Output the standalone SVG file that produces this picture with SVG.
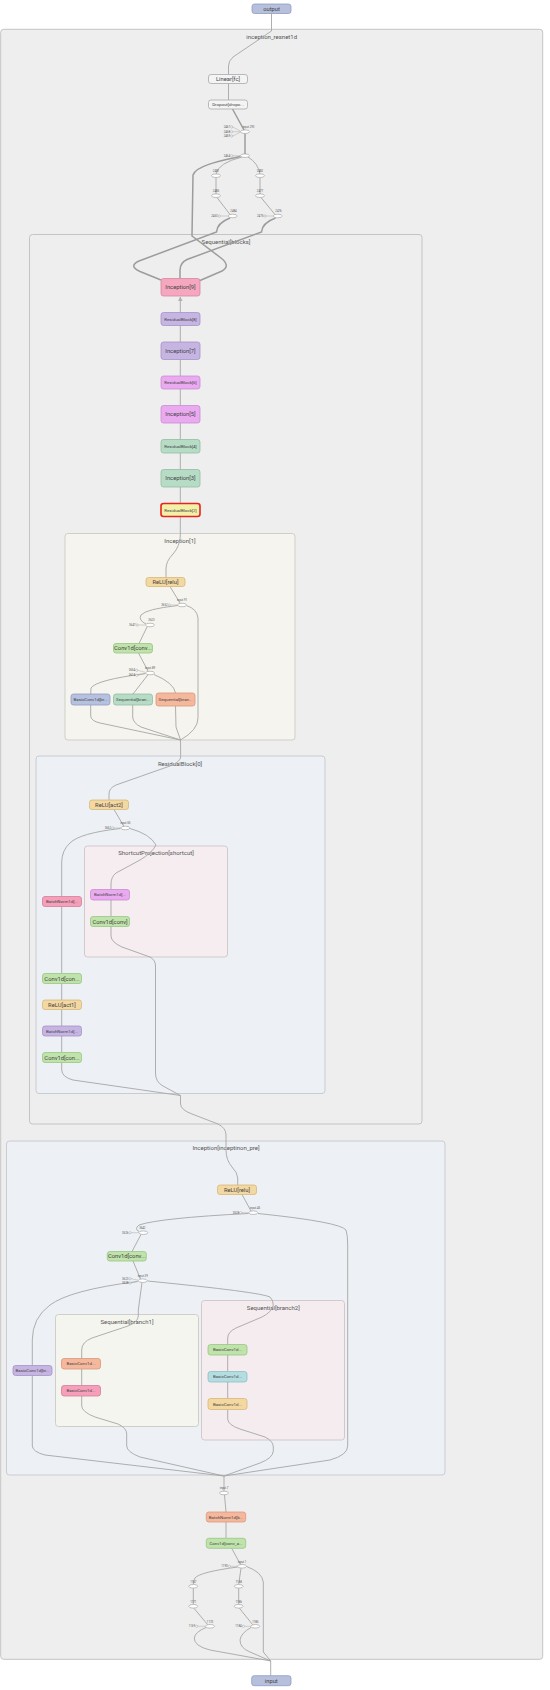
<svg xmlns="http://www.w3.org/2000/svg" width="550" height="1690" viewBox="0 0 550 1690">
<defs>
<style>
.box{stroke:#c4c4c4;stroke-width:1}
.n{stroke-width:0.8}
.e{fill:none;stroke:#a6a6a6;stroke-width:0.9}
.et{fill:none;stroke:#9c9c9c;stroke-width:1.5}
.t{font-family:Roboto,"Liberation Sans",sans-serif;fill:#444;text-anchor:middle;dominant-baseline:central}
.tt{font-size:6px;fill:#555}
.l{font-size:5.8px}
.s{font-size:4.4px}
.x{font-size:2.8px;fill:#555}
.xe{text-anchor:end}
.el{fill:#fff;stroke:#999;stroke-width:0.6}
.c{fill:#fff;stroke:#999;stroke-width:0.5}
.cl{fill:none;stroke:#aaa;stroke-width:0.5}
.io{fill:#b6c0dc;stroke:#8f9cc2}
.gr{fill:#f4f4f4;stroke:#aaa}
.pk{fill:#f4a7bf;stroke:#d5879e}
.pu{fill:#c6b5e3;stroke:#a593c6}
.vi{fill:#eaaaf0;stroke:#c98bd0}
.gn{fill:#b7dcc6;stroke:#93bca3}
.ye{fill:#f3f0a8;stroke:#e8241d;stroke-width:1.6}
.re{fill:#f4d8a1;stroke:#d6b77c}
.cv{fill:#bfe3aa;stroke:#97c783}
.bl{fill:#b6c0df;stroke:#8f9dc3}
.or{fill:#f6b89c;stroke:#d8977b}
.pi{fill:#f59fbb;stroke:#d47e9b}
.te{fill:#b3dde0;stroke:#8fbfc3}
</style>
<marker id="ah" viewBox="0 0 10 10" refX="9" refY="5" markerWidth="5" markerHeight="5" orient="auto"><path d="M0,0 L10,5 L0,10 z" fill="#b0b0b0"/></marker>
</defs>
<rect width="550" height="1690" fill="#ffffff"/>

<g id="inception_resnet1d">
<rect class="box" x="0.7" y="29.3" width="542" height="1630" rx="3" fill="#eeeeee"/>
<text class="t tt" x="271.7" y="36">inception_resnet1d</text>
</g>
<g id="blocks">
<rect class="box" x="29.5" y="234.5" width="392.5" height="889.5" rx="3" fill="#eeeeee"/>
<text class="t tt" x="226" y="241">Sequential[blocks]</text>
</g>
<g id="inception1">
<rect x="65" y="533.5" width="230" height="206.5" rx="3" fill="#f5f4ee" stroke="#cfcfc8"/>
<text class="t tt" x="180" y="540">Inception[1]</text>
</g>
<g id="residualblock0">
<rect x="36" y="756" width="289" height="337.5" rx="3" fill="#edf0f5" stroke="#c8ccd4"/>
<text class="t tt" x="180" y="763">ResidualBlock[0]</text>
</g>
<g id="shortcut">
<rect x="84.5" y="846" width="143" height="111" rx="3" fill="#f5edf0" stroke="#d2c9cd"/>
<text class="t tt" x="156" y="852.5">ShortcutProjection[shortcut]</text>
</g>
<g id="inception_pre">
<rect x="6.5" y="1141" width="438.5" height="334" rx="3" fill="#edf0f5" stroke="#c8ccd4"/>
<text class="t tt" x="226" y="1147.5">Inception[inceptinon_pre]</text>
</g>
<g id="branch1">
<rect x="55.5" y="1314.5" width="143" height="112" rx="3" fill="#f5f5ef" stroke="#cfcfc8"/>
<text class="t tt" x="127" y="1321">Sequential[branch1]</text>
</g>
<g id="branch2">
<rect x="201.5" y="1300.5" width="143" height="139.5" rx="3" fill="#f5ecf0" stroke="#d2c9cd"/>
<text class="t tt" x="273.3" y="1307.5">Sequential[branch2]</text>
</g>

<g id="connectors">
<path class="e" d="M271.5,13.5 L271.5,31 L233,57 Q228.5,61 228.5,66 L228.5,74.5"/>
<path class="e" d="M228.5,83.5 L228.5,100"/>
<path class="et" d="M232.5,109 L244,130"/>
<path class="et" d="M245,133.5 L245,154"/>
<path class="et" d="M240.5,156.5 C225,160 196,165 193,175 L192,236 L221,258 Q231,266 222,271 L200,280.5"/>
<path class="e" d="M242,157 Q218,163 216,174"/>
<path class="e" d="M248,157 Q258,163 260,174"/>
<path class="e" d="M216,177.5 L216,194"/>
<path class="e" d="M260,177.5 L260,194"/>
<path class="e" d="M217,197.5 L230,214.5"/>
<path class="e" d="M261,197.5 L275,214.5"/>
<path class="et" d="M230,218 Q217,223 216.5,232 L139,261 Q128,266 140,271.5 L161,280"/>
<path class="et" d="M275.5,218 Q262,223 261.5,232 L187,259.5 Q180,263 180,270 L180,278.5"/>
<path class="e" d="M180.3,312.5 L180.3,297" marker-end="url(#ah)"/>
<path class="e" d="M180.3,325.5 L180.3,342"/>
<path class="e" d="M180.3,359.5 L180.3,376"/>
<path class="e" d="M180.3,389 L180.3,405.5"/>
<path class="e" d="M180.3,423 L180.3,439.5"/>
<path class="e" d="M180.3,453 L180.3,469.5"/>
<path class="e" d="M180.3,487 L180.3,503.5"/>
<path class="e" d="M180.3,516.5 L180.3,536 Q180,546 173,554 Q166,561 166,569 L166,577.5"/>
<path class="e" d="M170,586.5 L180,603"/>
<path class="e" d="M178,605.5 Q146,609 141,615 Q138,620 146,624"/>
<path class="e" d="M186.5,605.5 Q197,609 198,618 L198,718 Q198,730 180.5,740"/>
<path class="e" d="M147,627 L139,643.5"/>
<path class="e" d="M138.5,653 L148,671"/>
<path class="e" d="M145.5,673.5 Q96,680 91,688 L90.7,694"/>
<path class="e" d="M148,674.7 L133,694"/>
<path class="e" d="M154,674.5 Q174,683 175.5,693"/>
<path class="e" d="M90.7,705 L90.7,716 Q91,721 100,723 L180.5,740"/>
<path class="e" d="M132.7,705 L132.7,717 Q133,723 141,727 L180.5,740"/>
<path class="e" d="M175.5,706 L176,727 L180.5,740"/>
<path class="e" d="M180.5,740 L180.7,757 Q180,762 170,766 L116,785 Q109,788 109,794 L109,800"/>
<path class="e" d="M114,809.5 L124,826.5"/>
<path class="e" d="M120.5,828.5 Q80,833 70,843 Q62,850 61.7,862 L61.7,896.5"/>
<path class="e" d="M130,828.5 Q150,834 156,845 Q152,853 140,860 L116,873 Q111,877 111,884 L111,889.5"/>
<path class="e" d="M111,900 L111,916.5"/>
<path class="e" d="M111,926.5 L111,936 Q111,942 122,947 L150,957 Q155.5,960 155.5,966 L155.5,1073 Q155.5,1082 163,1086 L180.5,1095.5"/>
<path class="e" d="M61.7,906.5 L61.7,973.5"/>
<path class="e" d="M61.7,983.5 L61.7,1000"/>
<path class="e" d="M61.7,1009.5 L61.7,1026"/>
<path class="e" d="M61.7,1036 L61.7,1052.5"/>
<path class="e" d="M61.7,1062.5 L61.7,1070 Q62,1077 73,1080 L180.5,1095.5"/>
<path class="e" d="M180.5,1095.5 L180.5,1104 Q181,1110 192,1114 L218,1124 Q226,1128 226,1135 L226,1150 Q226,1160 232,1167 Q237.7,1173 237.7,1178 L237.7,1185"/>
<path class="e" d="M242,1194.5 L251,1211"/>
<path class="e" d="M248.5,1213.5 Q160,1218 139,1225 Q134,1229 139,1231.5"/>
<path class="e" d="M258,1213.5 Q340,1222 346,1230 Q347.7,1235 347.7,1245 L347.7,1446 Q347.7,1455 330,1460 L224,1476"/>
<path class="e" d="M141,1234.5 L132,1251.5"/>
<path class="e" d="M133,1261 L140.5,1279"/>
<path class="e" d="M147.5,1281 Q260,1292 270,1297 Q273.3,1300 273.3,1305 Q272,1312 262,1317 L236,1328 Q227.7,1332 227.7,1338 L227.7,1344.5"/>
<path class="e" d="M142,1282.5 L138.3,1310 L138.3,1316 Q138,1322 128,1326 L92,1338 Q81.7,1342 81.7,1350 L81.7,1358.5"/>
<path class="e" d="M137.5,1281.5 Q70,1290 50,1305 Q32.3,1318 32.3,1340 L32.3,1365.5"/>
<path class="e" d="M32.3,1375.5 L32.3,1446 Q33,1452 45,1455 L224,1476"/>
<path class="e" d="M81.7,1369 L81.7,1385.5"/>
<path class="e" d="M81.7,1396 L81.7,1406 Q82,1412 95,1417 L118,1424 Q126.7,1428 126.7,1434 L126.7,1446 Q127,1452 140,1457 L224,1476"/>
<path class="e" d="M227.7,1355 L227.7,1371.5"/>
<path class="e" d="M227.7,1382 L227.7,1398.5"/>
<path class="e" d="M227.7,1409.5 L227.7,1419 Q228,1425 240,1429 L265,1437 Q273.3,1441 273.3,1447 L273.3,1451 Q273,1458 260,1463 L224,1476"/>
<path class="e" d="M224,1476 L224,1491"/>
<path class="e" d="M224.5,1495 L226,1512"/>
<path class="e" d="M226,1522 L226,1538.3"/>
<path class="e" d="M231.7,1548.3 L240.5,1564.5"/>
<path class="e" d="M237.7,1567 Q200,1572 195,1578 Q193.3,1581 193.3,1584.3"/>
<path class="e" d="M241,1568.3 L238.7,1584.3"/>
<path class="e" d="M193.3,1588.3 L193.3,1604.3"/>
<path class="e" d="M238.7,1588.3 L238.7,1604.3"/>
<path class="e" d="M194,1608.3 L207.5,1624.5"/>
<path class="e" d="M239.5,1608.3 L252.5,1624.5"/>
<path class="e" d="M206,1627.5 Q195,1632 194.3,1638 Q194,1646 210,1650 L270.7,1661"/>
<path class="e" d="M251,1627.5 Q241,1633 240,1640 Q240,1648 250,1652 L270.7,1661"/>
<path class="e" d="M246.5,1566.5 Q262,1572 263.3,1582 L263.3,1652 L270.7,1661"/>
<path class="e" d="M270.7,1661 L270.7,1675.7"/>
<!-- constant links -->
<path class="cl" d="M232.8,127 L240.5,131.2 M232.8,131.7 L240.5,131.7 M232.8,136 L240.5,132.2"/>
<path class="cl" d="M232.8,155.7 L240.5,155.7"/>
<path class="cl" d="M220.4,216 L228.2,216 M266.1,216 L273.2,216"/>
<path class="cl" d="M170.4,605 L177.3,605 M138.1,625 L145.3,625 M137.8,670.3 L145.3,672.3 M137.8,675.3 L145.3,673.5"/>
<path class="cl" d="M113.8,828 L120.8,828"/>
<path class="cl" d="M241.8,1212.7 L248.8,1212.7 M131.1,1232.7 L138.8,1232.7 M131.1,1278.7 L138.2,1280.2 M131.1,1283 L138.2,1281.3"/>
<path class="cl" d="M230.4,1566.3 L237.7,1566.3 M197.8,1626.3 L205.5,1626.3 M244.4,1626.3 L250.8,1626.3"/>
</g>

<g id="output"><rect class="n io" x="252" y="4" width="39" height="9.5" rx="2.5"/><text class="t l" x="271.5" y="8.8">output</text></g>
<g id="linear_fc"><rect class="n gr" x="208.5" y="74.5" width="39" height="9" rx="2.5"/><text class="t l" x="228" y="79">Linear[fc]</text></g>
<g id="dropout"><rect class="n gr" x="208.5" y="100" width="39" height="9" rx="2.5"/><text class="t s" x="228" y="104.5">Dropout[dropo...</text></g>

<g id="op_input293"><ellipse class="el" cx="245" cy="131.7" rx="4.5" ry="1.8"/><text class="t x" x="248.5" y="127.3">input.293</text>
<circle class="c" cx="231.7" cy="127" r="1.1"/><text class="t x xe" x="230" y="127">2467</text>
<circle class="c" cx="231.7" cy="131.7" r="1.1"/><text class="t x xe" x="230" y="131.7">2468</text>
<circle class="c" cx="231.7" cy="136" r="1.1"/><text class="t x xe" x="230" y="136">2469</text></g>
<g id="op_2464"><ellipse class="el" cx="245" cy="155.7" rx="4.5" ry="1.8"/><circle class="c" cx="231.7" cy="155.7" r="1.1"/><text class="t x xe" x="230" y="155.7">2464</text></g>
<g id="op_2481"><ellipse class="el" cx="216" cy="175.7" rx="4.5" ry="1.8"/><text class="t x" x="216" y="171">2481</text></g>
<g id="op_2482"><ellipse class="el" cx="260" cy="175.7" rx="4.5" ry="1.8"/><text class="t x" x="260" y="171">2482</text></g>
<g id="op_2485"><ellipse class="el" cx="216" cy="195.7" rx="4.5" ry="1.8"/><text class="t x" x="216" y="191">2485</text></g>
<g id="op_2477"><ellipse class="el" cx="260" cy="195.7" rx="4.5" ry="1.8"/><text class="t x" x="260" y="191">2477</text></g>
<g id="op_2484"><ellipse class="el" cx="232.7" cy="216" rx="4.5" ry="1.8"/><text class="t x" x="233.5" y="211.3">2484</text><circle class="c" cx="219.3" cy="216" r="1.1"/><text class="t x xe" x="217.6" y="216">2463</text></g>
<g id="op_2476"><ellipse class="el" cx="277.7" cy="216" rx="4.5" ry="1.8"/><text class="t x" x="278.5" y="211.3">2476</text><circle class="c" cx="265" cy="216" r="1.1"/><text class="t x xe" x="263.3" y="216">2475</text></g>

<g id="inception9"><rect class="n pk" x="161" y="278.5" width="39" height="17.5" rx="2.5"/><text class="t l" x="180.5" y="287.3">Inception[9]</text></g>
<g id="residualblock8"><rect class="n pu" x="161" y="312.5" width="39" height="13" rx="2.5"/><text class="t s" x="180.5" y="319">ResidualBlock[8]</text></g>
<g id="inception7"><rect class="n pu" x="161" y="342" width="39" height="17.5" rx="2.5"/><text class="t l" x="180.5" y="350.8">Inception[7]</text></g>
<g id="residualblock6"><rect class="n vi" x="161" y="376" width="39" height="13" rx="2.5"/><text class="t s" x="180.5" y="382.5">ResidualBlock[6]</text></g>
<g id="inception5"><rect class="n vi" x="161" y="405.5" width="39" height="17.5" rx="2.5"/><text class="t l" x="180.5" y="414.3">Inception[5]</text></g>
<g id="residualblock4"><rect class="n gn" x="161" y="439.5" width="39" height="13.5" rx="2.5"/><text class="t s" x="180.5" y="446.3">ResidualBlock[4]</text></g>
<g id="inception3"><rect class="n gn" x="161" y="469.5" width="39" height="17.5" rx="2.5"/><text class="t l" x="180.5" y="478.3">Inception[3]</text></g>
<g id="residualblock2"><rect class="ye" x="161" y="503.5" width="39" height="13" rx="2.5"/><text class="t s" x="180.5" y="510">ResidualBlock[2]</text></g>

<g id="i1_relu"><rect class="n re" x="146" y="577.5" width="39" height="9" rx="2.5"/><text class="t l" x="165.5" y="582">ReLU[relu]</text></g>
<g id="i1_input91"><ellipse class="el" cx="182" cy="605" rx="4.5" ry="1.8"/><text class="t x" x="182" y="600.3">input.91</text><circle class="c" cx="169.3" cy="605" r="1.1"/><text class="t x xe" x="167.6" y="605">3652</text></g>
<g id="i1_3623"><ellipse class="el" cx="150" cy="625" rx="4.5" ry="1.8"/><text class="t x" x="151.5" y="620.3">3623</text><circle class="c" cx="137" cy="625" r="1.1"/><text class="t x xe" x="135.3" y="625">3647</text></g>
<g id="i1_conv"><rect class="n cv" x="113.5" y="643.5" width="39" height="9.5" rx="2.5"/><text class="t l" x="133" y="648.3">Conv1d[conv...</text></g>
<g id="i1_input89"><ellipse class="el" cx="150" cy="673" rx="4.5" ry="1.8"/><text class="t x" x="150" y="668.3">input.89</text><circle class="c" cx="136.7" cy="670.3" r="1.1"/><text class="t x xe" x="135" y="670.3">3654</text><circle class="c" cx="136.7" cy="675.3" r="1.1"/><text class="t x xe" x="135" y="675.3">3614</text></g>
<g id="i1_branch0"><rect class="n bl" x="71" y="694" width="39" height="11" rx="2.5"/><text class="t s" x="90.5" y="699.5">BasicConv1d[br...</text></g>
<g id="i1_branch1"><rect class="n gn" x="113.5" y="694" width="39" height="11" rx="2.5"/><text class="t s" x="133" y="699.5">Sequential[bran...</text></g>
<g id="i1_branch2"><rect class="n or" x="156" y="693" width="39" height="13" rx="2.5"/><text class="t s" x="175.5" y="699.5">Sequential[bran...</text></g>

<g id="rb0_act2"><rect class="n re" x="89.5" y="800" width="39" height="9.5" rx="2.5"/><text class="t l" x="109" y="804.8">ReLU[act2]</text></g>
<g id="rb0_input55"><ellipse class="el" cx="125.3" cy="828" rx="4.5" ry="1.8"/><text class="t x" x="125.3" y="823.3">input.55</text><circle class="c" cx="112.7" cy="828" r="1.1"/><text class="t x xe" x="111" y="828">3652</text></g>
<g id="rb0_bn2"><rect class="n pi" x="42.5" y="896.5" width="39" height="10" rx="2.5"/><text class="t s" x="62" y="901.5">BatchNorm1d[...</text></g>
<g id="sc_bn"><rect class="n vi" x="90.5" y="889.5" width="39" height="10.5" rx="2.5"/><text class="t s" x="110" y="894.8">BatchNorm1d[...</text></g>
<g id="sc_conv"><rect class="n cv" x="90.5" y="916.5" width="39" height="10" rx="2.5"/><text class="t l" x="110" y="921.5">Conv1d[conv]</text></g>
<g id="rb0_conv2"><rect class="n cv" x="42.5" y="973.5" width="39" height="10" rx="2.5"/><text class="t l" x="62" y="978.5">Conv1d[con...</text></g>
<g id="rb0_act1"><rect class="n re" x="42.5" y="1000" width="39" height="9.5" rx="2.5"/><text class="t l" x="62" y="1004.8">ReLU[act1]</text></g>
<g id="rb0_bn1"><rect class="n pu" x="42.5" y="1026" width="39" height="10" rx="2.5"/><text class="t s" x="62" y="1031">BatchNorm1d[...</text></g>
<g id="rb0_conv1"><rect class="n cv" x="42.5" y="1052.5" width="39" height="10" rx="2.5"/><text class="t l" x="62" y="1057.5">Conv1d[con...</text></g>

<g id="pre_relu"><rect class="n re" x="217.5" y="1185" width="39" height="9.5" rx="2.5"/><text class="t l" x="237" y="1189.8">ReLU[relu]</text></g>
<g id="pre_input45"><ellipse class="el" cx="253.3" cy="1212.7" rx="4.5" ry="1.8"/><text class="t x" x="255" y="1208">input.45</text><circle class="c" cx="240.7" cy="1212.7" r="1.1"/><text class="t x xe" x="239" y="1212.7">3528</text></g>
<g id="pre_3642"><ellipse class="el" cx="143.3" cy="1232.7" rx="4.5" ry="1.8"/><text class="t x" x="142.3" y="1227.5">3642</text><circle class="c" cx="130" cy="1232.7" r="1.1"/><text class="t x xe" x="128.3" y="1232.7">3526</text></g>
<g id="pre_conv"><rect class="n cv" x="107.3" y="1251.5" width="39" height="9.5" rx="2.5"/><text class="t l" x="126.8" y="1256.3">Conv1d[conv...</text></g>
<g id="pre_input39"><ellipse class="el" cx="142.7" cy="1280.7" rx="4.5" ry="1.8"/><text class="t x" x="142.7" y="1276">input.39</text><circle class="c" cx="130" cy="1278.7" r="1.1"/><text class="t x xe" x="128.3" y="1278.7">3623</text><circle class="c" cx="130" cy="1283" r="1.1"/><text class="t x xe" x="128.3" y="1283">3528</text></g>
<g id="pre_branch0"><rect class="n pu" x="13" y="1365.5" width="39" height="10" rx="2.5"/><text class="t s" x="32.5" y="1370.5">BasicConv1d[br...</text></g>
<g id="b1_conv0"><rect class="n or" x="61.5" y="1358.5" width="39" height="10.5" rx="2.5"/><text class="t s" x="81" y="1363.8">BasicConv1d...</text></g>
<g id="b1_conv1"><rect class="n pi" x="61.5" y="1385.5" width="39" height="10.5" rx="2.5"/><text class="t s" x="81" y="1390.8">BasicConv1d...</text></g>
<g id="b2_conv0"><rect class="n cv" x="208" y="1344.5" width="39" height="10.5" rx="2.5"/><text class="t s" x="227.5" y="1349.8">BasicConv1d...</text></g>
<g id="b2_conv1"><rect class="n te" x="208" y="1371.5" width="39" height="10.5" rx="2.5"/><text class="t s" x="227.5" y="1376.8">BasicConv1d...</text></g>
<g id="b2_conv2"><rect class="n re" x="208" y="1398.5" width="39" height="11" rx="2.5"/><text class="t s" x="227.5" y="1404">BasicConv1d...</text></g>

<g id="op_input7"><ellipse class="el" cx="224" cy="1493" rx="4.5" ry="1.8"/><text class="t x" x="224" y="1488.3">input.7</text></g>
<g id="bn_a"><rect class="n or" x="206.3" y="1512" width="39.4" height="10" rx="2.5"/><text class="t s" x="226" y="1517">BatchNorm1d[b...</text></g>
<g id="conv_a"><rect class="n cv" x="206.3" y="1538.3" width="39.4" height="10" rx="2.5"/><text class="t s" x="226" y="1543.3">Conv1d[conv_a...</text></g>
<g id="op_input1"><ellipse class="el" cx="242" cy="1566.3" rx="4.5" ry="1.8"/><text class="t x" x="242" y="1561.6">input.1</text><circle class="c" cx="229.3" cy="1566.3" r="1.1"/><text class="t x xe" x="227.6" y="1566.3">1190</text></g>
<g id="op_1167"><ellipse class="el" cx="193.3" cy="1586.3" rx="4.5" ry="1.8"/><text class="t x" x="193.3" y="1581.6">1167</text></g>
<g id="op_1168"><ellipse class="el" cx="238.7" cy="1586.3" rx="4.5" ry="1.8"/><text class="t x" x="238.7" y="1581.6">1168</text></g>
<g id="op_1171"><ellipse class="el" cx="193.3" cy="1606.3" rx="4.5" ry="1.8"/><text class="t x" x="193.3" y="1601.6">1171</text></g>
<g id="op_1186"><ellipse class="el" cx="238.7" cy="1606.3" rx="4.5" ry="1.8"/><text class="t x" x="238.7" y="1601.6">1186</text></g>
<g id="op_1170"><ellipse class="el" cx="210" cy="1626.3" rx="4.5" ry="1.8"/><text class="t x" x="210" y="1621.6">1170</text><circle class="c" cx="196.7" cy="1626.3" r="1.1"/><text class="t x xe" x="195" y="1626.3">1169</text></g>
<g id="op_1185"><ellipse class="el" cx="255.3" cy="1626.3" rx="4.5" ry="1.8"/><text class="t x" x="255.3" y="1621.6">1185</text><circle class="c" cx="243.3" cy="1626.3" r="1.1"/><text class="t x xe" x="241.6" y="1626.3">1184</text></g>
<g id="input"><rect class="n io" x="251.7" y="1675.7" width="39.3" height="10" rx="2.5"/><text class="t l" x="271.3" y="1680.7">input</text></g>
</svg>
